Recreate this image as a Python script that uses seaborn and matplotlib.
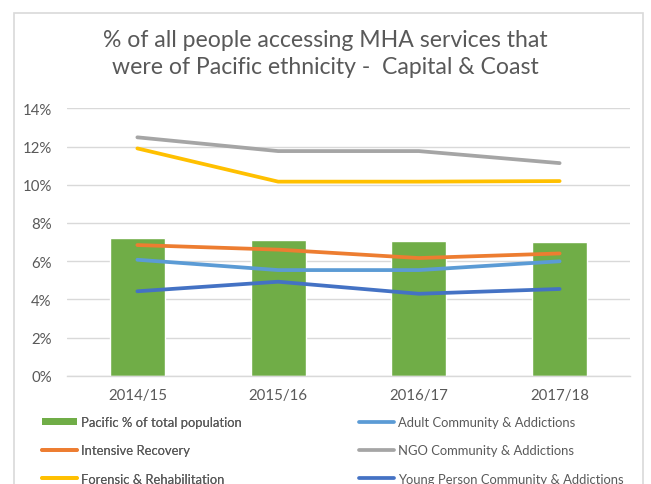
import numpy as np
import pandas as pd
import matplotlib
matplotlib.use("Agg")
import matplotlib.pyplot as plt
from matplotlib.patches import Rectangle, Patch
from matplotlib.lines import Line2D
import seaborn as sns

# ---- data -------------------------------------------------------------
years = ["2014/15", "2015/16", "2016/17", "2017/18"]
pacific_population = [7.22, 7.12, 7.03, 6.98]

series_names = [
    "Adult Community & Addictions",
    "Intensive Recovery",
    "NGO Community & Addictions",
    "Forensic & Rehabilitation",
    "Young Person Community & Addictions",
]
adult_community = [6.07, 5.53, 5.53, 5.99]
intensive_recovery = [6.84, 6.60, 6.16, 6.40]
ngo_community = [12.48, 11.76, 11.76, 11.13]
forensic_rehab = [11.90, 10.16, 10.16, 10.19]
young_person = [4.42, 4.92, 4.29, 4.54]

bar_name = "Pacific % of total population"
title = "% of all people accessing MHA services that\nwere of Pacific ethnicity -  Capital & Coast"
y_ticks = [0, 2, 4, 6, 8, 10, 12, 14]

colors = {
    bar_name: "#70AD47",
    "Adult Community & Addictions": "#5B9BD5",
    "Intensive Recovery": "#ED7D31",
    "NGO Community & Addictions": "#A5A5A5",
    "Forensic & Rehabilitation": "#FFC000",
    "Young Person Community & Addictions": "#4472C4",
}

# ---- styling ----------------------------------------------------------
sns.set_theme(style="white")
plt.rcParams["font.family"] = ["Lato", "DejaVu Sans"]
text_grey = "#595959"
grid_grey = "#D9D9D9"

W, H = 651, 485
fig = plt.figure(figsize=(W / 100, H / 100), dpi=100)
ax = fig.add_axes([67 / W, 1 - 376.7 / H, (630 - 67) / W, (376.7 - 109.3) / H])

# ---- bars -------------------------------------------------------------
bar_df = pd.DataFrame({"year": years, "value": pacific_population})
sns.barplot(data=bar_df, x="year", y="value", color=colors[bar_name],
            width=0.39, saturation=1, ax=ax, zorder=2)

# ---- lines ------------------------------------------------------------
line_values = [adult_community, intensive_recovery, ngo_community,
               forensic_rehab, young_person]
long_rows = []
for name, vals in zip(series_names, line_values):
    for i, v in enumerate(vals):
        long_rows.append({"pos": i, "value": v, "series": name})
line_df = pd.DataFrame(long_rows)
sns.lineplot(data=line_df, x="pos", y="value", hue="series",
             hue_order=series_names, palette=colors, linewidth=2.7,
             legend=False, ax=ax, zorder=3)

# ---- axes -------------------------------------------------------------
ax.set_xlim(-0.5, 3.5)
ax.set_ylim(0, 14)
ax.set_yticks(y_ticks)
ax.set_yticklabels([f"{t}%" for t in y_ticks])
ax.set_xticks(range(len(years)))
ax.set_xticklabels(years)
ax.set_xlabel("")
ax.set_ylabel("")
ax.yaxis.grid(True, color=grid_grey, linewidth=1, zorder=0)
ax.set_axisbelow(True)
for side in ["top", "right", "left"]:
    ax.spines[side].set_visible(False)
ax.spines["bottom"].set_color(grid_grey)
ax.spines["bottom"].set_linewidth(1)
ax.tick_params(axis="y", length=0, pad=11, labelsize=10.8, labelcolor=text_grey)
ax.tick_params(axis="x", length=0, pad=9, labelsize=10.8, labelcolor=text_grey)

# ---- title ------------------------------------------------------------
fig.text(325 / W, 1 - 54 / H, title, ha="center", va="center",
         fontsize=16.6, color=text_grey, linespacing=1.38)

# ---- legend (two columns of three entries) ----------------------------
def handle(name):
    if name == bar_name:
        return Patch(facecolor=colors[name], edgecolor="none")
    return Line2D([], [], color=colors[name], linewidth=2.7)

left_names = [bar_name, "Intensive Recovery", "Forensic & Rehabilitation"]
right_names = ["Adult Community & Addictions", "NGO Community & Addictions",
               "Young Person Community & Addictions"]
legend_kw = dict(frameon=False, fontsize=9.4, labelcolor=text_grey,
                 handlelength=2.7, handletextpad=0.3, labelspacing=1.25,
                 loc="upper left", borderaxespad=0, borderpad=0,
                 handleheight=0.5)
leg1 = fig.legend([handle(n) for n in left_names], left_names,
                  bbox_to_anchor=(42 / W, 1 - 417 / H), **legend_kw)
leg2 = fig.legend([handle(n) for n in right_names], right_names,
                  bbox_to_anchor=(359 / W, 1 - 417 / H), **legend_kw)
fig.add_artist(leg1)

# ---- chart border -----------------------------------------------------
fig.add_artist(Rectangle((14 / W, -0.05), (643 - 14) / W, 1.05 - 14 / H,
                         transform=fig.transFigure, fill=False,
                         edgecolor=grid_grey, linewidth=1.2))

fig.savefig("out.png", dpi=100, facecolor="white")
